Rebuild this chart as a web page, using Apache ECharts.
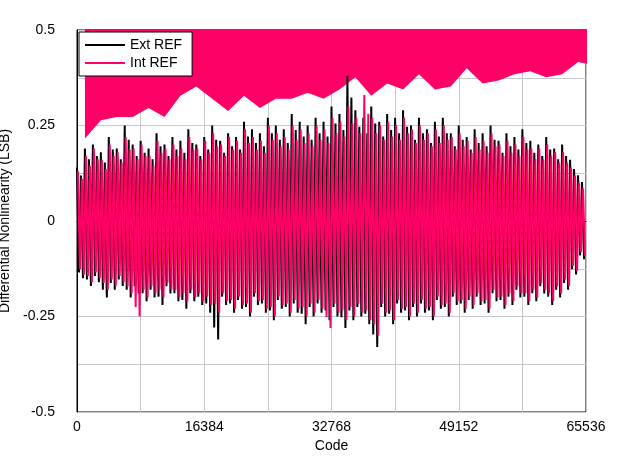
<!DOCTYPE html>
<html>
<head>
<meta charset="utf-8">
<script src="https://cdn.jsdelivr.net/npm/echarts@6/dist/echarts.min.js"></script>
<style>html,body{margin:0;padding:0;background:#fff}#chart{width:626px;height:469px}</style>
</head>
<body>
<div id="chart"></div>
<script>
// envelope peaks read per 1024-code block
var blockSize = 1024
var extHi = [0.14,0.19,0.2,0.18,0.22,0.19,0.25,0.2,0.21,0.19,0.23,0.2,0.22,0.21,0.24,0.2,0.22,0.25,0.21,0.23,0.22,0.26,0.24,0.23,0.27,0.25,0.24,0.28,0.26,0.25,0.27,0.26,0.3,0.28,0.38,0.29,0.27,0.3,0.26,0.28,0.27,0.29,0.25,0.27,0.24,0.26,0.27,0.23,0.25,0.22,0.24,0.23,0.25,0.21,0.23,0.22,0.24,0.21,0.2,0.22,0.19,0.2,0.16,0.12]
var extLo = [-0.15,-0.17,-0.16,-0.2,-0.18,-0.17,-0.2,-0.19,-0.21,-0.2,-0.22,-0.19,-0.21,-0.23,-0.21,-0.22,-0.24,-0.31,-0.22,-0.24,-0.23,-0.25,-0.22,-0.24,-0.26,-0.23,-0.25,-0.24,-0.27,-0.25,-0.24,-0.26,-0.25,-0.28,-0.26,-0.25,-0.27,-0.33,-0.25,-0.27,-0.24,-0.26,-0.25,-0.24,-0.26,-0.23,-0.25,-0.22,-0.24,-0.23,-0.22,-0.24,-0.21,-0.23,-0.22,-0.2,-0.22,-0.21,-0.19,-0.22,-0.2,-0.18,-0.14,-0.1]
var intHi = [0.13,0.17,0.19,0.16,0.2,0.18,0.22,0.19,0.2,0.17,0.21,0.19,0.2,0.19,0.22,0.19,0.21,0.23,0.2,0.22,0.21,0.24,0.22,0.21,0.25,0.23,0.22,0.25,0.24,0.23,0.25,0.24,0.27,0.26,0.3,0.27,0.33,0.27,0.25,0.26,0.25,0.27,0.24,0.25,0.23,0.24,0.25,0.22,0.23,0.21,0.22,0.21,0.23,0.2,0.21,0.2,0.22,0.19,0.19,0.2,0.18,0.18,0.14,0.1]
var intLo = [-0.14,-0.16,-0.15,-0.18,-0.17,-0.16,-0.19,-0.25,-0.2,-0.19,-0.2,-0.18,-0.2,-0.21,-0.2,-0.21,-0.22,-0.24,-0.21,-0.23,-0.22,-0.24,-0.21,-0.23,-0.25,-0.22,-0.24,-0.23,-0.25,-0.24,-0.23,-0.28,-0.24,-0.26,-0.25,-0.24,-0.26,-0.3,-0.24,-0.26,-0.23,-0.25,-0.24,-0.23,-0.25,-0.22,-0.24,-0.21,-0.23,-0.22,-0.21,-0.23,-0.2,-0.22,-0.21,-0.19,-0.21,-0.2,-0.18,-0.21,-0.19,-0.17,-0.13,-0.09]
var xTicks = [0, 16384, 32768, 49152, 65536]
var yTicks = [-0.5, -0.25, 0, 0.25, 0.5]

function zigzag(hi, lo, shift) {
    var out = []
    for (var i = 0; i < hi.length; i++) {
        var x0 = i * blockSize
        out.push([x0 + shift, hi[i]])
        out.push([x0 + shift + 256, lo[i] * 0.9])
        out.push([x0 + shift + 512, hi[i] * 0.85])
        out.push([x0 + shift + 768, lo[i]])
    }
    return out
}
// dense core of the pink trace: band between the inner envelope
function bandBase(lo) {
    return lo.map(function (v, i) { return [i * blockSize + 512, v * 0.8] })
}
function bandHeight(hi, lo) {
    return hi.map(function (v, i) { return [i * blockSize + 512, (v - lo[i]) * 0.8] })
}

var font = { fontFamily: 'Liberation Sans', fontSize: 14, color: '#000' }
var chart = echarts.init(document.getElementById('chart'))
chart.setOption({
    animation: false,
    grid: { left: 77, right: 40, top: 30, bottom: 57, containLabel: false, outerBoundsMode: 'none',
        show: true, borderColor: '#000', borderWidth: 1 },
    legend: {
        left: 79, top: 32, orient: 'vertical',
        backgroundColor: '#fff', borderColor: '#000', borderWidth: 1,
        padding: [6, 10, 6, 6], itemGap: 4,
        itemWidth: 40, itemHeight: 2, icon: 'rect',
        textStyle: font,
        data: ['Ext REF', 'Int REF']
    },
    xAxis: {
        type: 'value', min: 0, max: 65536, interval: 8192,
        name: 'Code', nameLocation: 'middle', nameGap: 22, nameTextStyle: font,
        axisLine: { lineStyle: { color: '#000' } }, axisTick: { show: false },
        axisLabel: Object.assign({ margin: 8,
            formatter: function (v) { return xTicks.indexOf(v) >= 0 ? String(v) : '' } }, font),
        splitLine: { show: true, lineStyle: { color: '#c8c8c8' } }
    },
    yAxis: {
        type: 'value', min: -0.5, max: 0.5, interval: 0.125,
        name: 'Differential Nonlinearity (LSB)', nameLocation: 'middle', nameGap: 56, nameTextStyle: font,
        axisLine: { show: true, lineStyle: { color: '#000' } }, axisTick: { show: false },
        axisLabel: Object.assign({ margin: 22,
            formatter: function (v) { return yTicks.indexOf(v) >= 0 ? String(v) : '' } }, font),
        splitLine: { show: true, lineStyle: { color: '#c8c8c8' } }
    },
    series: [
        { name: 'Ext REF', type: 'line', symbol: 'none', color: '#000',
          lineStyle: { width: 2 }, data: zigzag(extHi, extLo, 0) },
        { name: 'band', type: 'line', stack: 'b', symbol: 'none', lineStyle: { opacity: 0 },
          data: bandBase(intLo), tooltip: { show: false } },
        { name: 'band2', type: 'line', stack: 'b', symbol: 'none', lineStyle: { opacity: 0 },
          areaStyle: { color: '#ff0066', opacity: 1 }, data: bandHeight(intHi, intLo) },
        { name: 'Int REF', type: 'line', symbol: 'none', color: '#ff0066',
          lineStyle: { width: 2 }, data: zigzag(intHi, intLo, 128) }
    ]
})
</script>
</body>
</html>
